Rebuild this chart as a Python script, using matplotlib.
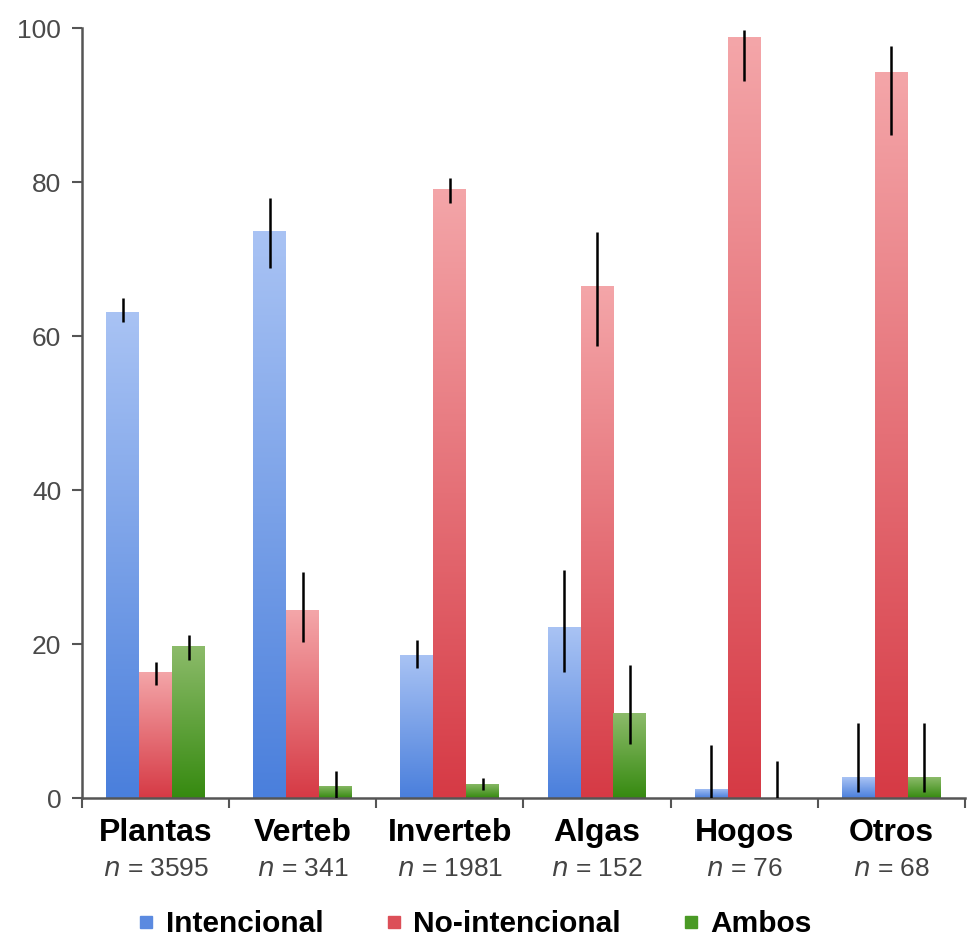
import numpy as np
import matplotlib
matplotlib.use("Agg")
import matplotlib.pyplot as plt
from matplotlib.colors import LinearSegmentedColormap
from matplotlib.lines import Line2D

plt.rcParams['font.family'] = ['Liberation Sans', 'DejaVu Sans']

categorias = ["Plantas", "Verteb", "Inverteb", "Algas", "Hogos", "Otros"]
n_muestras = [3595, 341, 1981, 152, 76, 68]
series = ["Intencional", "No-intencional", "Ambos"]

intencional = [63.2, 73.6, 18.6, 22.2, 1.2, 2.7]
intencional_lo = [61.8, 68.8, 16.9, 16.4, 0.0, 0.8]
intencional_hi = [64.9, 78.0, 20.5, 29.6, 6.9, 9.7]

no_intencional = [16.4, 24.4, 79.1, 66.5, 98.8, 94.3]
no_intencional_lo = [14.7, 20.3, 77.3, 58.7, 93.2, 86.1]
no_intencional_hi = [17.7, 29.4, 80.6, 73.5, 99.7, 97.7]

ambos = [19.7, 1.6, 1.9, 11.0, 0.0, 2.7]
ambos_lo = [17.9, 0.0, 1.0, 7.0, 0.0, 0.8]
ambos_hi = [21.2, 3.5, 2.6, 17.3, 4.8, 9.7]

# colores del degradado (abajo oscuro, arriba claro)
gradientes = [("#4a7fdc", "#a9c3f4"),
              ("#d63a45", "#f4a6a9"),
              ("#368a10", "#8cbb6a")]
color_legenda = ["#5b8ae0", "#dc4f58", "#4a9a25"]

fig = plt.figure(figsize=(9.67, 9.39), dpi=100)
ax = fig.add_axes([0.0848, 0.150, 0.913, 0.820])

x = np.arange(len(categorias)) + 0.5
ancho = 0.224
datos = [(intencional, intencional_lo, intencional_hi),
         (no_intencional, no_intencional_lo, no_intencional_hi),
         (ambos, ambos_lo, ambos_hi)]

grad = np.linspace(1, 0, 256).reshape(-1, 1)
for i, (vals, lo, hi) in enumerate(datos):
    pos = x + (i - 1) * ancho
    barras = ax.bar(pos, vals, width=ancho, color=gradientes[i][0],
                    edgecolor="none", zorder=2)
    cmap = LinearSegmentedColormap.from_list("g%d" % i, gradientes[i])
    for p in barras:
        x0, y0 = p.get_xy()
        w, h = p.get_width(), p.get_height()
        if h <= 0:
            continue
        img = ax.imshow(grad, extent=[x0, x0 + w, y0, y0 + h], aspect="auto",
                        cmap=cmap, vmin=0, vmax=1, zorder=2)
        img.set_clip_path(p)
    vals = np.array(vals)
    yerr = [vals - np.array(lo), np.array(hi) - vals]
    ax.errorbar(pos, vals, yerr=yerr, fmt="none", ecolor="black",
                elinewidth=1.8, capsize=0, zorder=3)

ax.set_xlim(0, len(categorias))
ax.set_ylim(0, 100)
ax.set_yticks(range(0, 101, 20))
ax.set_xticks(range(0, len(categorias) + 1))
ax.set_xticklabels([])
ax.tick_params(axis="y", labelsize=19, labelcolor="#4a4a4a", length=7,
               width=1.5, color="#555555", pad=8)
ax.tick_params(axis="x", length=7, width=1.5, color="#555555")
for s in ["top", "right"]:
    ax.spines[s].set_visible(False)
for s in ["left", "bottom"]:
    ax.spines[s].set_color("#555555")
    ax.spines[s].set_linewidth(1.8)

for xi, cat, n in zip(x, categorias, n_muestras):
    ax.text(xi, -2.6, cat, ha="center", va="top", fontsize=23,
            fontweight="bold")
    ax.text(xi, -7.6, r"$\it{n}$ = %d" % n, ha="center", va="top",
            fontsize=19, color="#444444")

handles = [Line2D([], [], marker="s", linestyle="none", markersize=8,
                  color=c) for c in color_legenda]
fig.legend(handles, series, loc="center", bbox_to_anchor=(0.49, 0.016),
           ncol=3, frameon=False, prop={"size": 21.5, "weight": "bold"},
           handletextpad=0.3, columnspacing=2.0, handlelength=0.7)

fig.savefig("out.png", dpi=100)
